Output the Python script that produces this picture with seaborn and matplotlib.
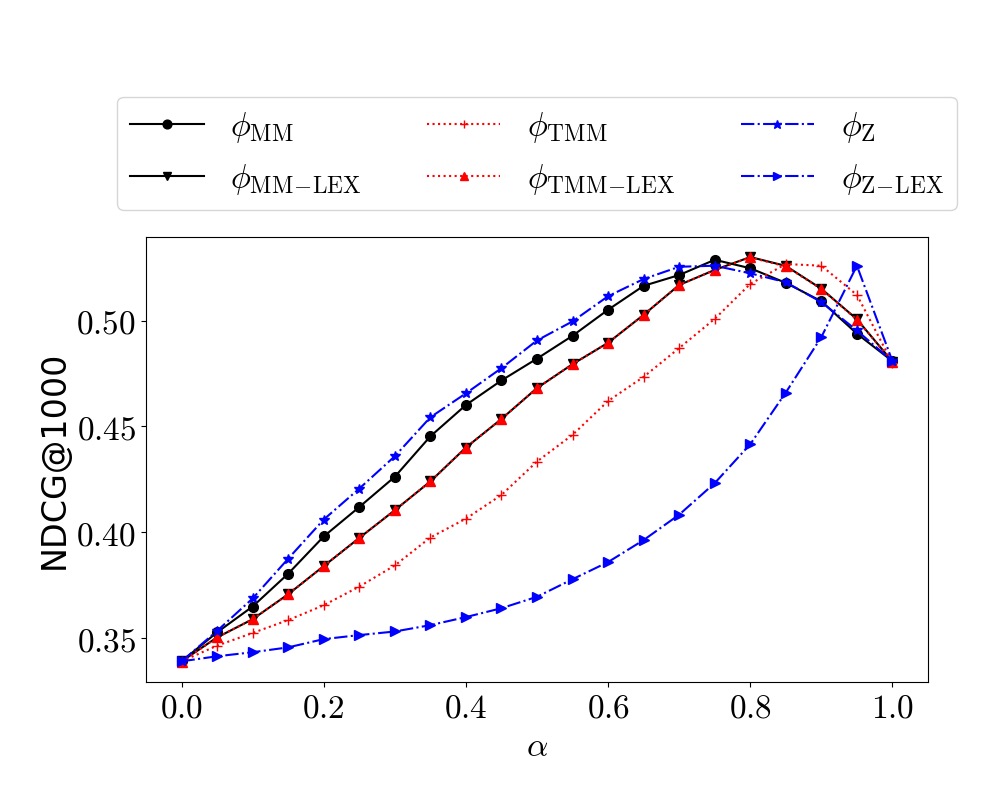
import matplotlib
matplotlib.use("Agg")
import matplotlib.pyplot as plt
import seaborn as sns
import numpy as np
import pandas as pd
from matplotlib.ticker import FuncFormatter

alpha = [0.0, 0.05, 0.1, 0.15, 0.2, 0.25, 0.3, 0.35, 0.4, 0.45, 0.5,
         0.55, 0.6, 0.65, 0.7, 0.75, 0.8, 0.85, 0.9, 0.95, 1.0]

phi_mm = [0.339, 0.3527, 0.3649, 0.3804, 0.398, 0.4119, 0.4262, 0.4453, 0.4601, 0.4717, 0.482,
          0.4928, 0.5051, 0.5164, 0.5215, 0.5287, 0.5247, 0.5178, 0.5091, 0.4938, 0.4808]
phi_mm_lex = [0.339, 0.3503, 0.3589, 0.3707, 0.384, 0.3973, 0.4104, 0.424, 0.44, 0.4535, 0.4681,
              0.4794, 0.4895, 0.5027, 0.5168, 0.5239, 0.5300, 0.5258, 0.5150, 0.5006, 0.4806]
phi_tmm = [0.339, 0.3464, 0.3524, 0.3585, 0.3655, 0.3743, 0.3843, 0.3975, 0.4064, 0.4176, 0.4334,
           0.446, 0.462, 0.4734, 0.487, 0.5008, 0.5173, 0.5267, 0.5259, 0.5121, 0.4799]
phi_tmm_lex = [0.3388, 0.3503, 0.3589, 0.3707, 0.384, 0.3973, 0.4104, 0.424, 0.44, 0.4535, 0.4681,
               0.4794, 0.4895, 0.5027, 0.5168, 0.5239, 0.5298, 0.5256, 0.5149, 0.5004, 0.4805]
phi_z = [0.339, 0.3534, 0.3687, 0.3875, 0.406, 0.4206, 0.4359, 0.4543, 0.4656, 0.4775, 0.4906,
         0.4996, 0.5115, 0.5196, 0.5254, 0.5259, 0.5223, 0.5181, 0.5087, 0.4953, 0.4808]
phi_z_lex = [0.339, 0.3414, 0.3433, 0.3456, 0.3495, 0.3514, 0.3531, 0.3561, 0.3599, 0.3641, 0.3695,
             0.3778, 0.3859, 0.3963, 0.4083, 0.4232, 0.4416, 0.466, 0.4922, 0.5259, 0.4808]

labels = [r"$\phi_{\mathrm{MM}}$",
          r"$\phi_{\mathrm{MM}\!-\!\mathrm{LEX}}$",
          r"$\phi_{\mathrm{TMM}}$",
          r"$\phi_{\mathrm{TMM}\!-\!\mathrm{LEX}}$",
          r"$\phi_{\mathrm{Z}}$",
          r"$\phi_{\mathrm{Z}\!-\!\mathrm{LEX}}$"]
series = [phi_mm, phi_mm_lex, phi_tmm, phi_tmm_lex, phi_z, phi_z_lex]
colors = ["black", "black", "red", "red", "blue", "blue"]
styles = ["-", "-", ":", ":", "-.", "-."]
markers = ["o", "v", "+", "^", "*", ">"]

plt.rcParams["mathtext.fontset"] = "cm"
plt.rcParams["font.family"] = ["DejaVu Sans"]

fig = plt.figure(figsize=(10, 8), dpi=100)
ax = fig.add_axes([0.146, 0.1475, 0.782, 0.5565])

for vals, lab, c, ls, m in zip(series, labels, colors, styles, markers):
    df = pd.DataFrame({"alpha": alpha, "ndcg": vals})
    sns.lineplot(data=df, x="alpha", y="ndcg", ax=ax, color=c, linestyle=ls,
                 marker=m, markersize=7, markeredgecolor=c, markerfacecolor=c,
                 markeredgewidth=1.0, label=lab, linewidth=1.5)

ax.xaxis.set_major_formatter(FuncFormatter(lambda v, p: f"${v:.1f}$"))
ax.yaxis.set_major_formatter(FuncFormatter(lambda v, p: f"${v:.2f}$"))
ax.tick_params(labelsize=24)
ax.set_xlabel(r"$\alpha$", fontsize=24)
ax.set_ylabel("NDCG@1000", fontsize=24)

ax.legend(loc="lower left", bbox_to_anchor=(0.117, 0.7375, 0.84, 0.11),
          bbox_transform=fig.transFigure, ncol=3, mode="expand", fontsize=24,
          markerscale=0.9, borderaxespad=0, handlelength=2.2)

fig.savefig("out.png", dpi=100)
